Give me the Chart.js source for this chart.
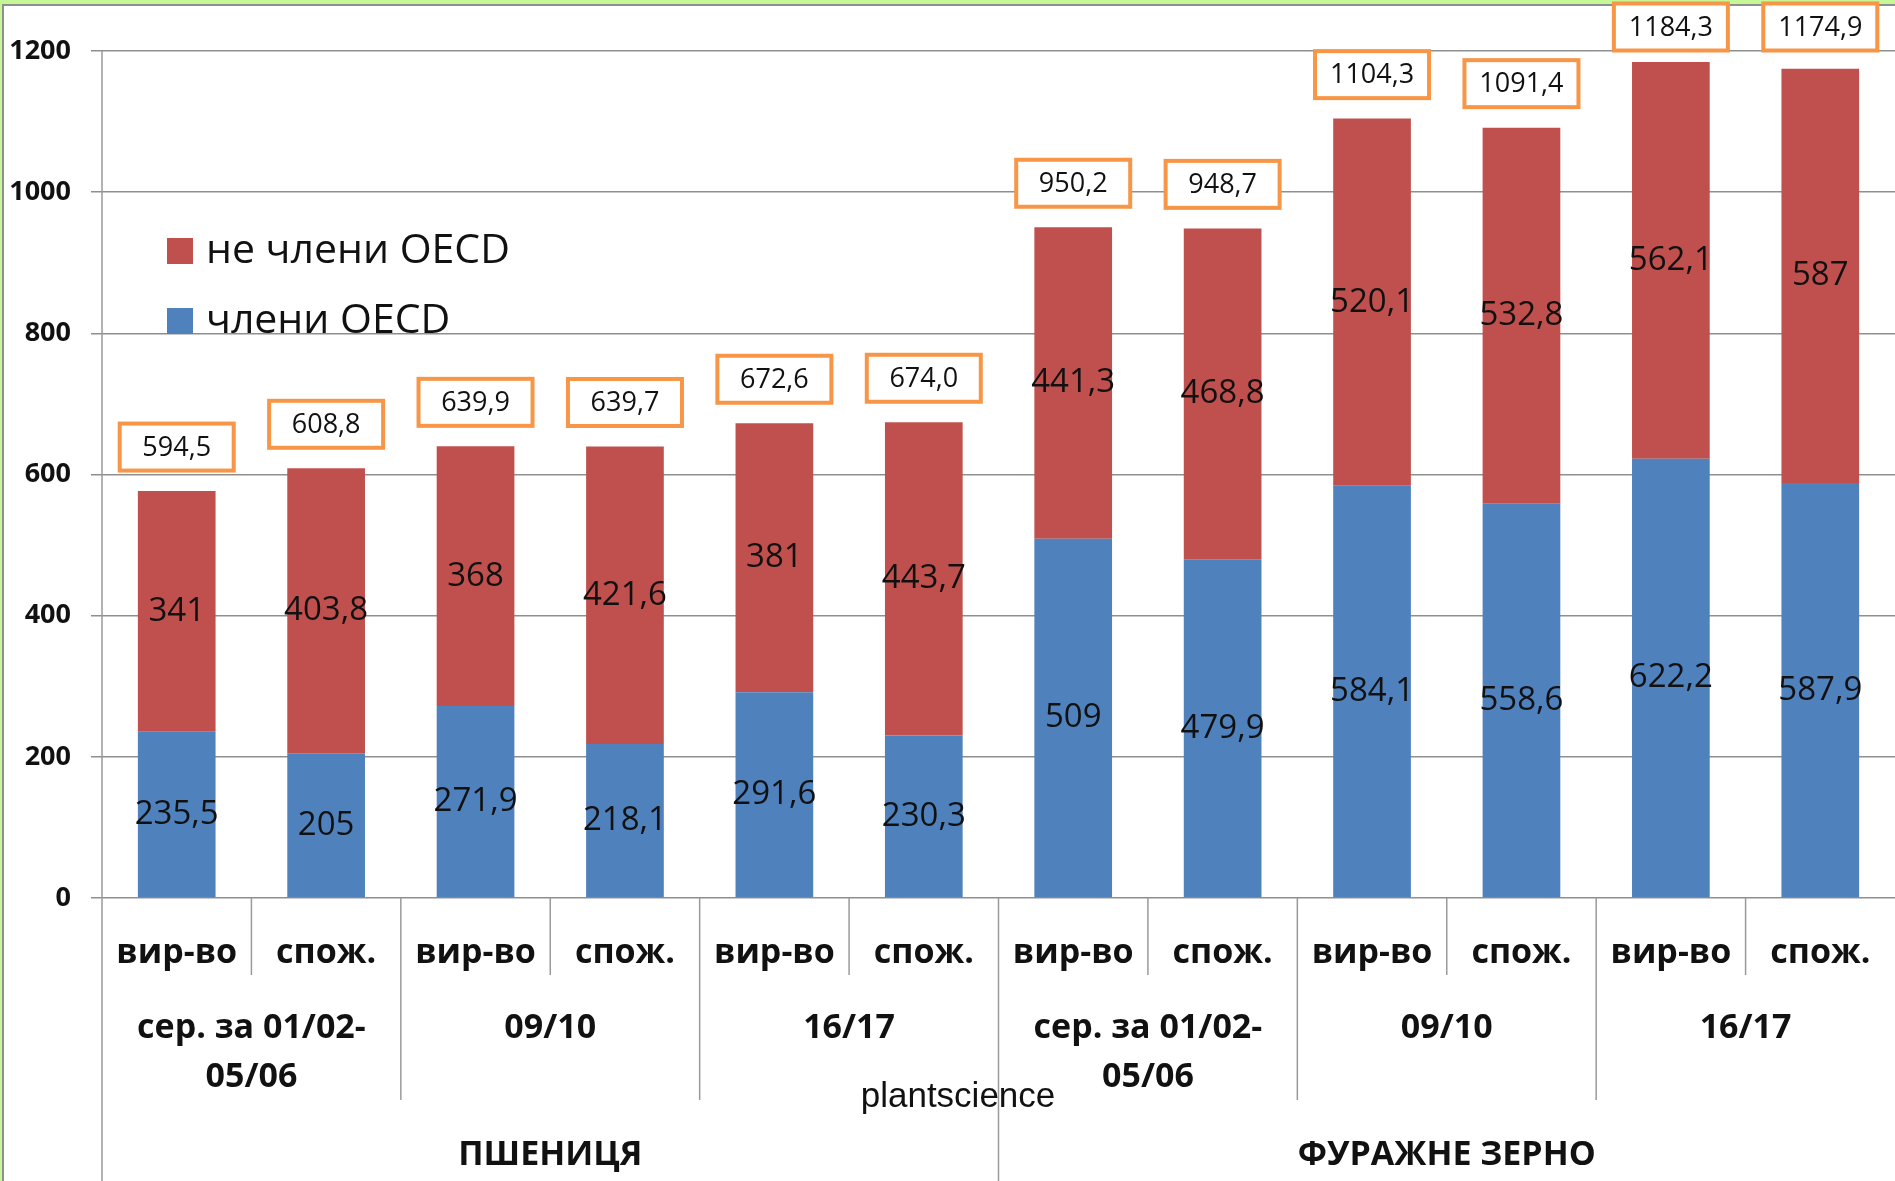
<!DOCTYPE html>
<html>
<head>
<meta charset="utf-8">
<script src="https://cdn.jsdelivr.net/npm/chart.js@4.4.1/dist/chart.umd.min.js"></script>
<style>
  html, body { margin: 0; padding: 0; background: #c6f797; overflow: hidden; }
  #frame {
    position: absolute; left: 2px; top: 4px; width: 1893px; height: 1177px;
    background: #fff; border-top: 2px solid #8f8f8f; border-left: 2px solid #8f8f8f;
  }
  #chart { position: absolute; left: 0; top: 0; }
</style>
</head>
<body>
<div id="frame"></div>
<canvas id="chart" width="1895" height="1181"></canvas>
<script>
// sub categories (one per bar)
const subLabels = ["вир-во", "спож.", "вир-во", "спож.", "вир-во", "спож.",
                   "вир-во", "спож.", "вир-во", "спож.", "вир-во", "спож."];
// periods, two bars each
const periodLabels = [["сер. за 01/02-", "05/06"], ["09/10"], ["16/17"],
                      ["сер. за 01/02-", "05/06"], ["09/10"], ["16/17"]];
// crops, six bars each
const cropLabels = ["ПШЕНИЦЯ", "ФУРАЖНЕ ЗЕРНО"];

const oecd = [235.5, 205, 271.9, 218.1, 291.6, 230.3, 509, 479.9, 584.1, 558.6, 622.2, 587.9];
const nonOecd = [341, 403.8, 368, 421.6, 381, 443.7, 441.3, 468.8, 520.1, 532.8, 562.1, 587];
const totals = [594.5, 608.8, 639.9, 639.7, 672.6, 674.0, 950.2, 948.7, 1104.3, 1091.4, 1184.3, 1174.9];

const yTicks = [0, 200, 400, 600, 800, 1000, 1200];

const RED = "#C0504D";
const BLUE = "#4F81BD";
const ORANGE = "#F79646";
const FONT = "'Open Sans', 'Noto Sans', sans-serif";

const comma = v => String(v).replace(".", ",");

// numbers inside the bars
const segmentLabels = {
  id: "segmentLabels",
  afterDatasetsDraw(chart) {
    const ctx = chart.ctx;
    ctx.save();
    ctx.fillStyle = "#111";
    ctx.font = "33px " + FONT;
    ctx.textAlign = "center";
    ctx.textBaseline = "middle";
    chart.data.datasets.forEach((ds, i) => {
      chart.getDatasetMeta(i).data.forEach((bar, j) => {
        const p = bar.getCenterPoint();
        ctx.fillText(comma(ds.data[j]), p.x, p.y);
      });
    });
    ctx.restore();
  }
};

// orange boxed totals above the bars
const totalBoxes = {
  id: "totalBoxes",
  afterDatasetsDraw(chart) {
    const ctx = chart.ctx;
    const y = chart.scales.y;
    const bars = chart.getDatasetMeta(1).data;
    ctx.save();
    ctx.font = "27px " + FONT;
    ctx.textAlign = "center";
    ctx.textBaseline = "middle";
    totals.forEach((t, i) => {
      const top = y.getPixelForValue(oecd[i] + nonOecd[i]);
      const cy = Math.max(top - 44, 27);
      const cx = bars[i].x;
      const w = 114, h = 47;
      ctx.fillStyle = "#fff";
      ctx.fillRect(cx - w / 2, cy - h / 2, w, h);
      ctx.strokeStyle = ORANGE;
      ctx.lineWidth = 4;
      ctx.strokeRect(cx - w / 2, cy - h / 2, w, h);
      ctx.fillStyle = "#111";
      ctx.fillText(t.toFixed(1).replace(".", ","), cx, cy + 1);
    });
    ctx.restore();
  }
};

// legend inside the plot, red entry on top
const innerLegend = {
  id: "innerLegend",
  afterDraw(chart) {
    const ctx = chart.ctx;
    const items = chart.data.datasets.slice().reverse();
    ctx.save();
    ctx.font = "41px " + FONT;
    ctx.textBaseline = "middle";
    items.forEach((ds, k) => {
      const cy = 251 + k * 70;
      ctx.fillStyle = ds.backgroundColor;
      ctx.fillRect(167, cy - 13, 26, 26);
      ctx.fillStyle = "#111";
      ctx.fillText(ds.label, 206, cy);
    });
    ctx.restore();
  }
};

// three-level category axis below the plot
const groupAxis = {
  id: "groupAxis",
  afterDraw(chart) {
    const ctx = chart.ctx;
    const x = chart.scales.x;
    const area = chart.chartArea;
    const step = x.getPixelForValue(1) - x.getPixelForValue(0);
    const edge = i => x.getPixelForValue(0) - step / 2 + i * step;
    const H = chart.height;
    ctx.save();
    ctx.strokeStyle = "#9a9a9a";
    ctx.lineWidth = 1.5;
    // left axis line down to the bottom
    ctx.beginPath();
    ctx.moveTo(area.left, area.top);
    ctx.lineTo(area.left, H);
    ctx.stroke();
    for (let i = 1; i < subLabels.length; i++) {
      let end = 975;
      if (i % 2 === 0) end = 1100;
      if (i % 6 === 0) end = H;
      ctx.beginPath();
      ctx.moveTo(edge(i), area.bottom);
      ctx.lineTo(edge(i), end);
      ctx.stroke();
    }
    ctx.fillStyle = "#111";
    ctx.textAlign = "center";
    ctx.textBaseline = "middle";
    ctx.font = "bold 34px " + FONT;
    subLabels.forEach((s, i) => ctx.fillText(s, x.getPixelForValue(i), 953));
    periodLabels.forEach((lines, k) => {
      lines.forEach((s, l) => ctx.fillText(s, edge(2 * k + 1), 1028 + l * 49));
    });
    cropLabels.forEach((s, k) => ctx.fillText(s, edge(6 * k + 3), 1155));
    ctx.font = "35px 'Liberation Sans', Arial, sans-serif";
    ctx.fillText("plantscience", 958, 1097);
    ctx.restore();
  }
};

new Chart(document.getElementById("chart"), {
  type: "bar",
  data: {
    labels: subLabels,
    datasets: [
      { label: "члени OECD", data: oecd, backgroundColor: BLUE },
      { label: "не члени OECD", data: nonOecd, backgroundColor: RED }
    ]
  },
  options: {
    responsive: false,
    animation: false,
    layout: { padding: { top: 51, bottom: 283, left: 0, right: 0 } },
    datasets: { bar: { barPercentage: 0.52, categoryPercentage: 1, borderWidth: 0 } },
    plugins: { legend: { display: false }, tooltip: { enabled: false } },
    scales: {
      x: { display: false, stacked: true },
      y: {
        stacked: true,
        min: 0,
        max: 1200,
        afterBuildTicks: s => { s.ticks = yTicks.map(v => ({ value: v })); },
        afterFit: s => { s.width = 102; },
        border: { display: false },
        grid: { color: "#8f8f8f", lineWidth: 1.5, tickLength: 11 },
        ticks: {
          color: "#111",
          padding: 20,
          callback: v => String(v),
          font: { family: FONT, size: 27, weight: "bold" }
        }
      }
    }
  },
  plugins: [segmentLabels, totalBoxes, innerLegend, groupAxis]
});
</script>
</body>
</html>
